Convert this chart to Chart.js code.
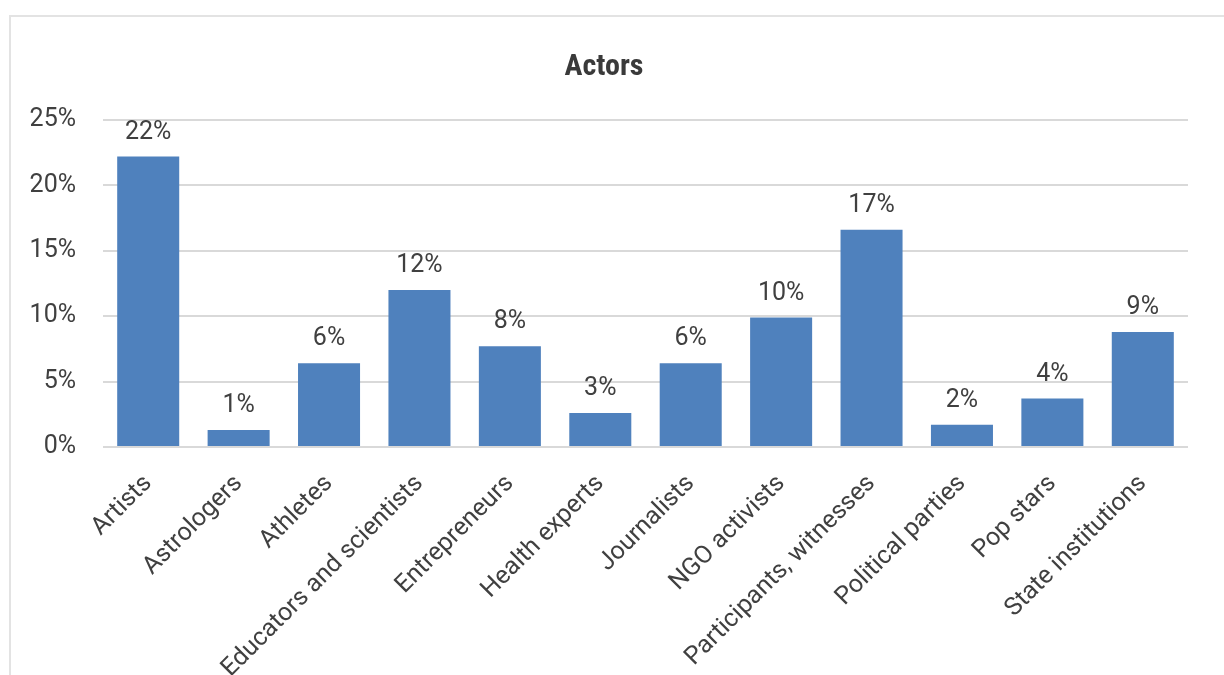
<!DOCTYPE html>
<html>
<head>
<meta charset="utf-8">
<script src="https://cdn.jsdelivr.net/npm/chart.js@4/dist/chart.umd.min.js"></script>
<style>
  html, body { margin: 0; padding: 0; background: #fff; overflow: hidden; }
  #frame { position: absolute; left: 9px; top: 15px; width: 1400px; height: 900px;
           border: 2px solid #e3e3e3; box-sizing: border-box; }
  #wrap { position: absolute; left: 0; top: 0; width: 1224px; height: 675px; }
</style>
</head>
<body>
<div id="frame"></div>
<div id="wrap"><canvas id="chart" width="1224" height="675"></canvas></div>
<script>
// Actors, share of mentions (percent).
const categories = [
  "Artists", "Astrologers", "Athletes", "Educators and scientists", "Entrepreneurs",
  "Health experts", "Journalists", "NGO activists", "Participants, witnesses",
  "Political parties", "Pop stars", "State institutions",
];
const shares = [22.2, 1.3, 6.4, 12.0, 7.7, 2.6, 6.4, 9.9, 16.6, 1.7, 3.7, 8.8];
const yTicks = [0, 5, 10, 15, 20, 25];
const title = "Actors";

const TEXT = "#404040";
const GRID = "#d9d9d9";
const FONT = "Roboto, 'Liberation Sans', sans-serif";
const TITLE_FONT = "'Liberation Sans Narrow', 'Roboto Condensed', Roboto, sans-serif";

// title sits a bit left of the canvas centre, as in the source sheet
const chartTitle = {
  id: "chartTitle",
  afterDraw(chart) {
    const ctx = chart.ctx;
    ctx.save();
    ctx.font = `bold 30px ${TITLE_FONT}`;
    ctx.fillStyle = "#3a3a3a";
    ctx.textAlign = "center";
    ctx.textBaseline = "middle";
    ctx.fillText(title, chart.width / 2 - 8, 67);
    ctx.restore();
  },
};

// draws the rounded value above each bar
const valueLabels = {
  id: "valueLabels",
  afterDatasetsDraw(chart) {
    const ctx = chart.ctx;
    const meta = chart.getDatasetMeta(0);
    ctx.save();
    ctx.font = `25px ${FONT}`;
    ctx.fillStyle = TEXT;
    ctx.textAlign = "center";
    ctx.textBaseline = "alphabetic";
    meta.data.forEach((bar, i) => {
      ctx.fillText(Math.round(shares[i]) + "%", bar.x, bar.y - 18);
    });
    ctx.restore();
  },
};

new Chart(document.getElementById("chart").getContext("2d"), {
  type: "bar",
  data: {
    labels: categories,
    datasets: [
      {
        data: shares,
        backgroundColor: "#4f81bd",
        barPercentage: 0.686,
        categoryPercentage: 1,
      },
    ],
  },
  options: {
    responsive: false,
    animation: false,
    layout: { padding: { top: 120, right: 36, bottom: 0, left: 0 } },
    plugins: {
      legend: { display: false },
      tooltip: { enabled: false },
      title: { display: false },
    },
    scales: {
      x: {
        grid: { display: false },
        border: { display: false },
        ticks: {
          color: TEXT,
          font: { family: FONT, size: 25 },
          minRotation: 45,
          maxRotation: 45,
          autoSkip: false,
          padding: 14,
        },
        afterFit(scale) { scale.height = 228; },
      },
      y: {
        min: 0,
        max: 25,
        afterBuildTicks(scale) { scale.ticks = yTicks.map((v) => ({ value: v })); },
        grid: { color: GRID, lineWidth: 2, drawTicks: false },
        border: { display: false },
        ticks: {
          color: TEXT,
          font: { family: FONT, size: 25 },
          padding: 27,
          callback: (v) => v + "%",
        },
        afterFit(scale) { scale.width = 103; },
      },
    },
  },
  plugins: [valueLabels, chartTitle],
});
</script>
</body>
</html>
